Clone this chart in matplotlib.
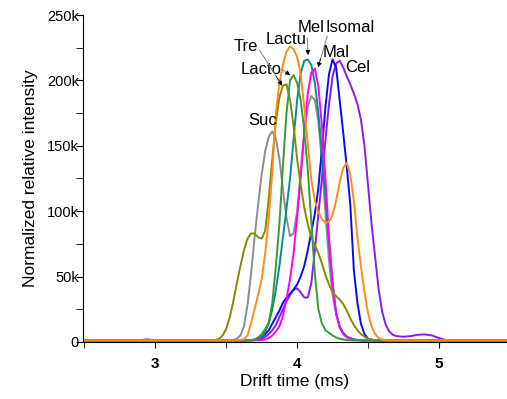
import matplotlib
matplotlib.use("Agg")
import matplotlib.pyplot as plt
from matplotlib.ticker import FuncFormatter, MultipleLocator

plt.rcParams['font.family'] = ['Liberation Sans', 'DejaVu Sans']

# drift time grid (ms)
x = [2.50, 2.88, 2.94, 3.00, 3.20,
     3.400, 3.425, 3.450, 3.475, 3.500, 3.525, 3.550, 3.575, 3.600, 3.625,
     3.650, 3.675, 3.700, 3.725, 3.750, 3.775, 3.800, 3.825, 3.850, 3.875,
     3.900, 3.925, 3.950, 3.975, 4.000, 4.025, 4.050, 4.075, 4.100, 4.125,
     4.150, 4.175, 4.200, 4.225, 4.250, 4.275, 4.300, 4.325, 4.350, 4.375,
     4.400, 4.425, 4.450, 4.475, 4.500, 4.525, 4.550, 4.575, 4.600, 4.625,
     4.650, 4.675, 4.700,
     4.75, 4.80, 4.85, 4.90, 4.95, 5.00, 5.05, 5.48]

# intensities in thousands
suc = [1.2, 1.2, 1.2, 1.2, 1.2,
       1.2, 1.2, 1.2, 1.2, 1.2, 1.3, 1.5, 2.5, 5, 12,
       28, 52, 80, 105, 128, 146, 157, 161, 156, 140,
       117, 95, 81, 83, 100, 130, 160, 180, 188, 185,
       168, 138, 98, 62, 36, 21, 12, 7, 4.5, 3,
       2, 1.5, 1.3, 1.2, 1.2, 1.2, 1.2, 1.2, 1.2, 1.2,
       1.2, 1.2, 1.2,
       1.2, 1.2, 1.2, 1.2, 1.2, 1.2, 1.2, 1.2]
tre = [1.2, 1.2, 1.2, 1.2, 1.2,
       1.2, 1.5, 2.5, 5, 10, 19, 31, 45, 58, 70,
       79, 83, 83, 80, 79, 85, 110, 140, 168, 187,
       196, 197, 185, 165, 140, 120, 103, 90, 80, 74,
       68, 60, 51, 44, 38, 35, 32.5, 29, 24, 18,
       13, 9, 6, 4, 2.5, 1.8, 1.4, 1.2, 1.2, 1.2,
       1.2, 1.2, 1.2,
       1.2, 1.2, 1.2, 1.2, 1.2, 1.2, 1.2, 1.2]
lacto = [1.2, 1.2, 1.2, 1.2, 1.2,
         1.2, 1.2, 1.2, 1.2, 1.2, 1.2, 1.2, 1.2, 1.2, 1.3,
         1.4, 1.5, 2, 3.5, 6, 10, 15, 30, 58, 90,
         135, 175, 200, 204, 198, 185, 162, 132, 92, 52,
         25, 14, 9, 7, 5, 3.5, 2.5, 2, 1.5, 1.3,
         1.2, 1.2, 1.2, 1.2, 1.2, 1.2, 1.2, 1.2, 1.2, 1.2,
         1.2, 1.2, 1.2,
         1.2, 1.2, 1.2, 1.2, 1.2, 1.2, 1.2, 1.2]
lactu = [1.2, 1.2, 1.2, 1.2, 1.2,
         1.2, 1.2, 1.2, 1.2, 1.2, 1.2, 1.2, 1.3, 1.5, 2,
         5, 14, 25, 36, 48, 68, 95, 130, 175, 198,
         212, 222, 226, 224, 218, 205, 180, 152, 124, 108,
         99, 94, 91, 92, 97, 108, 122, 133, 137, 128,
         108, 80, 58, 38, 22, 12, 6, 3, 1.8, 1.4,
         1.2, 1.2, 1.2,
         1.2, 1.2, 1.2, 1.2, 1.2, 1.2, 1.2, 1.2]
mel = [1.2, 1.2, 1.2, 1.2, 1.2,
       1.2, 1.2, 1.2, 1.2, 1.2, 1.2, 1.2, 1.2, 1.2, 1.2,
       1.3, 1.4, 1.5, 2.5, 4, 8, 14, 25, 40, 58,
       80, 102, 125, 155, 185, 205, 215, 216, 212, 198,
       175, 145, 110, 75, 45, 22, 12, 7, 4, 2.8,
       2, 1.5, 1.3, 1.2, 1.2, 1.2, 1.2, 1.2, 1.2, 1.2,
       1.2, 1.2, 1.2,
       1.2, 1.2, 1.2, 1.2, 1.2, 1.2, 1.2, 1.2]
isomal = [1.2, 1.2, 1.2, 1.2, 1.2,
          1.2, 1.2, 1.2, 1.2, 1.2, 1.2, 1.2, 1.2, 1.2, 1.2,
          1.2, 1.2, 1.3, 1.4, 1.5, 2, 3, 5, 8, 12,
          20, 33, 48, 68, 95, 125, 160, 190, 206, 209,
          195, 165, 125, 80, 45, 22, 11, 6, 3.5, 2.5,
          1.8, 1.4, 1.3, 1.2, 1.2, 1.2, 1.2, 1.2, 1.2, 1.2,
          1.2, 1.2, 1.2,
          1.2, 1.2, 1.2, 1.2, 1.2, 1.2, 1.2, 1.2]
mal = [1.2, 1.2, 1.2, 1.2, 1.2,
       1.2, 1.2, 1.2, 1.2, 1.2, 1.2, 1.2, 1.2, 1.2, 1.2,
       1.3, 1.4, 1.5, 2.5, 4, 6, 9, 14, 19, 24,
       30, 34, 37, 40, 44, 50, 58, 70, 84, 98,
       118, 148, 180, 205, 216, 210, 185, 160, 134, 105,
       55, 30, 14, 6, 2.5, 1.8, 1.4, 1.2, 1.2, 1.2,
       1.2, 1.2, 1.2,
       1.2, 1.2, 1.2, 1.2, 1.2, 1.2, 1.2, 1.2]
cel = [1.2, 1.2, 2.0, 1.3, 1.2,
       1.2, 1.2, 1.2, 1.2, 1.2, 1.2, 1.2, 1.2, 1.2, 1.2,
       1.2, 1.3, 1.4, 2, 2.5, 4, 6, 9, 13, 19,
       25, 31, 36, 40, 41, 38, 34, 34, 45, 70,
       98, 125, 155, 182, 203, 213, 215, 210, 203, 197,
       190, 182, 170, 150, 120, 90, 65, 40, 23, 13,
       8, 5.5, 4.5,
       4, 4.5, 5.5, 5.8, 5, 3, 1.5, 1.2]

series = [
    (suc, '#8c8c8c'),
    (cel, '#8a1bef'),
    (mal, '#0a0aee'),
    (mel, '#009090'),
    (isomal, '#ff00ff'),
    (tre, '#858a00'),
    (lacto, '#3a9a3a'),
    (lactu, '#ff8c1a'),
]

fig = plt.figure(figsize=(5.07, 3.99), dpi=100)
ax = fig.add_axes([0.1637, 0.1429, 0.8363, 0.8195])

for vals, col in series:
    ax.plot(x, [v * 1000 for v in vals], color=col, lw=1.4)

ax.set_xlim(2.49, 5.48)
ax.set_ylim(0, 250000)

ax.spines['top'].set_visible(False)
ax.spines['right'].set_visible(False)

ax.xaxis.set_major_locator(MultipleLocator(1))
ax.xaxis.set_minor_locator(MultipleLocator(0.5))
ax.yaxis.set_major_locator(MultipleLocator(50000))
ax.yaxis.set_minor_locator(MultipleLocator(25000))
ax.yaxis.set_major_formatter(FuncFormatter(lambda v, p: '0' if v == 0 else '%dk' % (v / 1000)))

ax.tick_params(axis='x', which='both', direction='out', length=4, pad=7, labelsize=11)
ax.tick_params(axis='y', which='both', direction='out', length=5, pad=-2, labelsize=10.5)
for t in ax.get_xticklabels():
    t.set_fontweight('bold')

ax.set_xlabel('Drift time (ms)', fontsize=12.5, labelpad=2)
ax.set_ylabel('Normalized relative intensity', fontsize=12.5, labelpad=6)

fs = 12
ax.text(3.549, 226300, 'Tre', fontsize=fs, va='center')
ax.text(3.775, 230900, 'Lactu', fontsize=fs, va='center')
ax.text(3.599, 208700, 'Lacto', fontsize=fs, va='center')
ax.text(3.655, 169000, 'Suc', fontsize=fs, va='center')
ax.text(4.007, 240800, 'Mel', fontsize=fs, va='center')
ax.text(4.197, 240800, 'Isomal', fontsize=fs, va='center')
ax.text(4.183, 221000, 'Mal', fontsize=fs, va='center')
ax.text(4.338, 209500, 'Cel', fontsize=fs, va='center')

# pointer lines (grey) with small black heads
pointers = [
    ((3.725, 224800), (3.894, 196000)),
    ((3.880, 209500), (3.951, 204000)),
    ((4.070, 234700), (4.077, 219400)),
    ((4.218, 236000), (4.148, 210000)),
]
for (x0, y0), (x1, y1) in pointers:
    ax.annotate('', xy=(x1, y1), xytext=(x0, y0),
                arrowprops=dict(arrowstyle='-', color='#808080', lw=0.7))
    ax.annotate('', xy=(x1, y1), xytext=(x1 - (x1 - x0) * 0.25, y1 - (y1 - y0) * 0.25),
                arrowprops=dict(arrowstyle='-|>', color='black', lw=0.5,
                                mutation_scale=7, shrinkA=0, shrinkB=0))

fig.savefig('out.png', dpi=100)
